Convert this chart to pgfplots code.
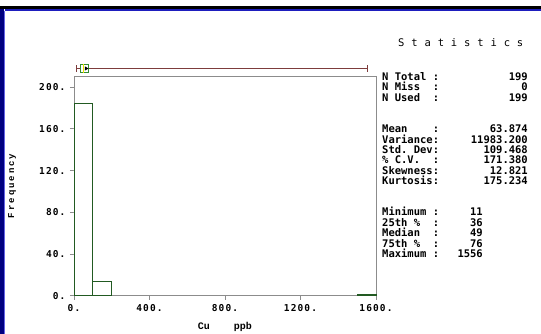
\documentclass[border=0pt]{standalone}
\usepackage{fontspec}
\usepackage{pgfplots}
\pgfplotsset{compat=1.18}
\usepgfplotslibrary{statistics}
\newfontfamily\mono{DejaVu Sans Mono}
\newfontfamily\monotick[LetterSpace=12]{DejaVu Sans Mono}
\newfontfamily\lmono{Liberation Mono}
\newfontfamily\lmonosp[LetterSpace=22]{Liberation Mono}
\definecolor{bargreen}{RGB}{34,90,34}
\definecolor{framegray}{RGB}{140,140,140}
\definecolor{whiskred}{RGB}{125,60,60}
\definecolor{boxgreen}{RGB}{50,140,50}
\definecolor{medyellow}{RGB}{230,230,0}
\definecolor{navy}{RGB}{0,0,128}
\definecolor{borderblue}{RGB}{30,30,190}
\definecolor{lightblue}{RGB}{100,100,230}
\newcommand{\st}{\mono\bfseries\fontsize{10.5}{12}\selectfont}
\newcommand{\sttitle}{\mono\fontsize{10.5}{12}\selectfont}
\begin{document}
\begin{tikzpicture}[x=1pt,y=1pt]
\useasboundingbox (0,0) rectangle (541,334);
\fill[white] (0,0) rectangle (541,334);
\fill[black] (0,324.7) rectangle (541,327.5);
\fill[borderblue] (5.3,323.2) rectangle (541,324.7);
\fill[navy] (0,0) rectangle (4,324.7);
\fill[lightblue] (4,0) rectangle (5.3,323.2);
\begin{axis}[
  at={(74pt,38.3pt)}, anchor=origin,
  scale only axis, width=302pt, height=219.7pt,
  xmin=0, xmax=1600, ymin=0, ymax=210.7,
  clip=false,
  axis line style={framegray, line width=0.8pt},
  xtick={0,400,800,1200,1600}, xticklabels={0.,400.,800.,1200.,1600.},
  ytick={0,40,80,120,160,200}, yticklabels={0.,40.,80.,120.,160.,200.},
  xtick pos=bottom, ytick pos=left,
  tick align=outside, major tick length=4pt,
  tick style={framegray, line width=0.8pt},
  ticklabel style={font=\monotick\bfseries\fontsize{9.5}{10}\selectfont},
  xticklabel style={yshift=-1pt},
  yticklabel style={xshift=-1pt},
  xlabel={Cu~~~~ppb},
  ylabel={Frequency},
  every axis x label/.style={at={(axis description cs:0.5,0)}, anchor=center, yshift=-31pt, font=\lmono\bfseries\fontsize{10}{12}\selectfont},
  every axis y label/.style={at={(axis description cs:0,0.5)}, anchor=center, xshift=-62pt, rotate=90, font=\lmonosp\bfseries\fontsize{9}{11}\selectfont},
]
\addplot[ybar interval, draw=bargreen, fill=white, line width=0.9pt] coordinates {(0,184) (100,14) (200,14)};
\addplot[ybar interval, draw=bargreen, fill=white, line width=1.2pt] coordinates {(1500,1) (1600,1)};
\addplot[boxplot prepared={lower whisker=11, lower quartile=36, median=49, upper quartile=76, upper whisker=1556, draw position=217.9, box extend=7.7, whisker extend=6, draw direction=x,
  every whisker/.style={whiskred, line width=0.9pt},
  every box/.style={draw=boxgreen, line width=0.9pt, fill=white},
  every median/.style={medyellow, line width=1.2pt}}, draw=boxgreen] coordinates {};
\addplot[only marks, mark=triangle*, mark size=2pt, mark options={rotate=-90, black}] coordinates {(63.874,217.9)};
\end{axis}
% Statistics panel
\node[anchor=base west, inner sep=0, font=\sttitle] at (398,287.7) {%
\makebox[13.2pt][l]{S}\makebox[13.2pt][l]{t}\makebox[13.2pt][l]{a}\makebox[13.2pt][l]{t}\makebox[13.2pt][l]{i}\makebox[13.2pt][l]{s}\makebox[13.2pt][l]{t}\makebox[13.2pt][l]{i}\makebox[13.2pt][l]{c}\makebox[13.2pt][l]{s}};
\begin{scope}[every node/.style={inner sep=0, font=\st}]
\node[anchor=base west] at (382,253.4) {N~Total~:};
\node[anchor=base west] at (382,243.0) {N~Miss~~:};
\node[anchor=base west] at (382,232.6) {N~Used~~:};
\node[anchor=base west] at (382,201.2) {Mean~~~~:};
\node[anchor=base west] at (382,190.8) {Variance:};
\node[anchor=base west] at (382,180.4) {Std.~Dev:};
\node[anchor=base west] at (382,170.0) {\%~C.V.~~:};
\node[anchor=base west] at (382,159.6) {Skewness:};
\node[anchor=base west] at (382,149.2) {Kurtosis:};
\node[anchor=base west] at (382,118.0) {Minimum~:};
\node[anchor=base west] at (382,107.6) {25th~\%~~:};
\node[anchor=base west] at (382,97.2) {Median~~:};
\node[anchor=base west] at (382,86.8) {75th~\%~~:};
\node[anchor=base west] at (382,76.4) {Maximum~:};
\node[anchor=base east] at (528,253.4) {199};
\node[anchor=base east] at (528,243.0) {0};
\node[anchor=base east] at (528,232.6) {199};
\node[anchor=base east] at (528,201.2) {63.874};
\node[anchor=base east] at (528,190.8) {11983.200};
\node[anchor=base east] at (528,180.4) {109.468};
\node[anchor=base east] at (528,170.0) {171.380};
\node[anchor=base east] at (528,159.6) {12.821};
\node[anchor=base east] at (528,149.2) {175.234};
\node[anchor=base east] at (483,118.0) {11};
\node[anchor=base east] at (483,107.6) {36};
\node[anchor=base east] at (483,97.2) {49};
\node[anchor=base east] at (483,86.8) {76};
\node[anchor=base east] at (483,76.4) {1556};
\end{scope}
\end{tikzpicture}
\end{document}
